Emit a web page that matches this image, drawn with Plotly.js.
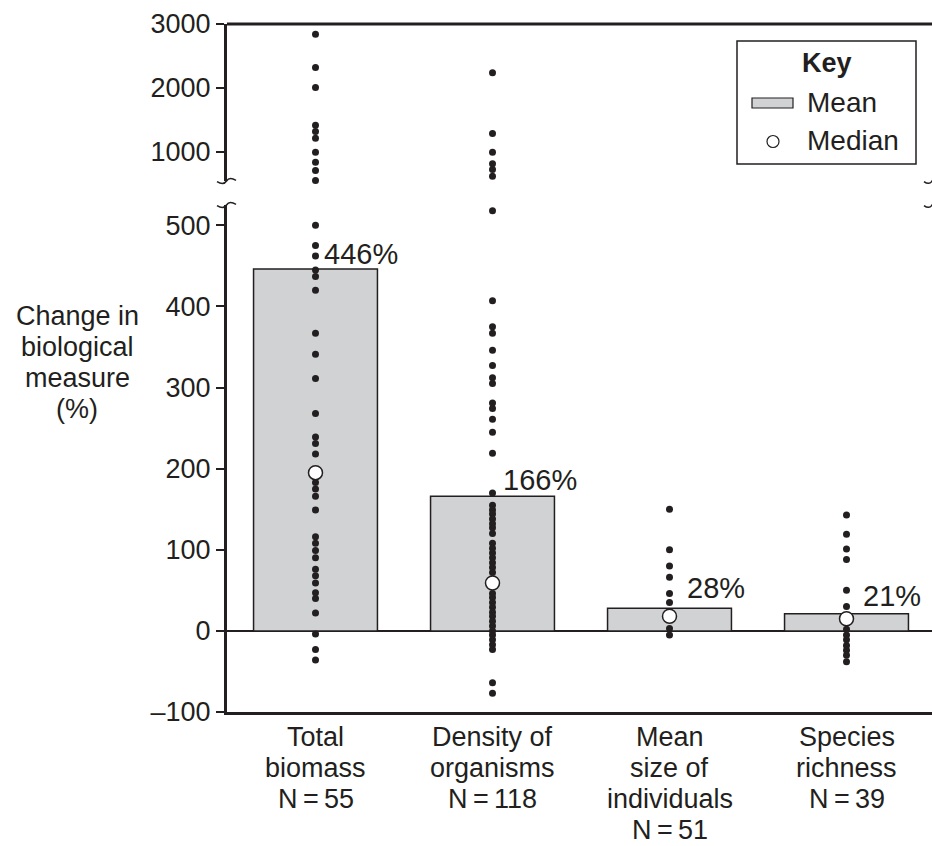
<!DOCTYPE html>
<html>
<head>
<meta charset="utf-8">
<script src="https://cdn.plot.ly/plotly-3.0.1.min.js"></script>
<style>
  html, body { margin: 0; padding: 0; background: #ffffff; }
  #chart { width: 932px; height: 846px; }
</style>
</head>
<body>
<div id="chart"></div>
<script>
// Category labels along the x axis (one entry per line)
const categories = [
  ['Total', 'biomass', 'N\u2009=\u200955'],
  ['Density of', 'organisms', 'N\u2009=\u2009118'],
  ['Mean', 'size of', 'individuals', 'N\u2009=\u200951'],
  ['Species', 'richness', 'N\u2009=\u200939']
];

// Mean change (%) per measure – drawn as bars
const meanValues = [446, 166, 28, 21];
// Median change (%) per measure – drawn as open circles
const medianValues = [195, 59, 18, 15];

// Individual study values (%) per measure
const biomassPoints = [
  2840, 2320, 2005, 1415, 1315, 1210, 990, 835, 705, 548,
  500, 475, 462, 445, 437, 420, 367, 341, 311, 268, 239, 231, 218,
  183, 175, 166, 149, 116, 108, 99, 90, 76, 68, 59, 47, 40, 22, -4, -23, -36
];
const densityPoints = [
  2235, 1285, 990, 810, 720, 615,
  518, 407, 375, 367, 346, 327, 312, 305, 281, 274, 261, 245, 219,
  170, 155, 149, 144, 138, 132, 127, 120, 108, 102, 96, 90, 84, 78, 72,
  46, 41, 35, 29, 23, 18, 12, 6, 0, -5, -11, -17, -23, -64, -77
];
const sizePoints = [150, 100, 80, 66, 46, 35, 3, -5];
const richnessPoints = [143, 119, 101, 88, 50, 30, 2, -5, -11, -18, -24, -30, -38];

// Tick values / labels for the two segments of the broken y axis
const lowerTickVals = [-100, 0, 100, 200, 300, 400, 500];
const lowerTickText = ['\u2013100', '0', '100', '200', '300', '400', '500'];
const upperTickVals = [1000, 2000, 3000];
const upperTickText = ['1000', '2000', '3000'];

// y-axis title lines
const yTitleLines = ['Change in', 'biological', 'measure', '(%)'];

// ---- styling / geometry -------------------------------------------------
const INK = '#231f20';
const BAR_FILL = '#d1d2d4';
const FONT = 'Liberation Sans, Arial, Helvetica, sans-serif';

const W = 932, H = 846;
const M = { l: 227, r: 0, t: 24, b: 134 };
const plotW = W - M.l - M.r;
const plotH = H - M.t - M.b;

// pixel -> paper helpers for decorations
const px = p => (p - M.l) / plotW;
const py = p => (H - M.b - p) / plotH;

const LOWER_MAX = 525;   // top of the lower segment
const UPPER_MIN = 541;   // bottom of the upper segment
const lowerDomain = [0, py(205)];
const upperDomain = [py(181), 1];

// ---- traces -------------------------------------------------------------
const allPoints = [biomassPoints, densityPoints, sizePoints, richnessPoints];
const lowX = [], lowY = [], highX = [], highY = [];
allPoints.forEach((vals, i) => {
  vals.forEach(v => {
    if (v > LOWER_MAX) { highX.push(i); highY.push(v); }
    else { lowX.push(i); lowY.push(v); }
  });
});

const xIdx = categories.map((_, i) => i);

const traces = [
  {
    type: 'bar', x: xIdx, y: meanValues, width: 0.70,
    marker: { color: BAR_FILL, line: { color: INK, width: 1.5 } },
    xaxis: 'x', yaxis: 'y', showlegend: false, hoverinfo: 'skip'
  },
  {
    type: 'scatter', mode: 'markers', x: lowX, y: lowY,
    marker: { size: 7, color: INK },
    xaxis: 'x', yaxis: 'y', cliponaxis: false, showlegend: false
  },
  {
    type: 'scatter', mode: 'markers', x: highX, y: highY,
    marker: { size: 7, color: INK },
    xaxis: 'x', yaxis: 'y2', cliponaxis: false, showlegend: false
  },
  {
    type: 'scatter', mode: 'markers', x: xIdx, y: medianValues,
    marker: { size: 14, color: '#ffffff', line: { color: INK, width: 1.5 } },
    xaxis: 'x', yaxis: 'y', cliponaxis: false, showlegend: false
  }
];

// ---- annotations ----------------------------------------------------------
const labelShift = [[6, 15], [8, 16], [15, 20], [14, 18]];
const annotations = meanValues.map((v, i) => ({
  x: i, y: v, xref: 'x', yref: 'y',
  text: v + '%', showarrow: false,
  xanchor: 'left', yanchor: 'middle',
  xshift: labelShift[i][0], yshift: labelShift[i][1],
  font: { family: FONT, size: 29, color: INK }
}));

// category labels under the axis, one line at a time
const LINE_GAP = 31;
categories.forEach((lines, i) => {
  lines.forEach((line, j) => {
    annotations.push({
      x: i, xref: 'x', yref: 'paper', y: py(737 + LINE_GAP * j),
      text: line, showarrow: false, xanchor: 'center', yanchor: 'middle',
      font: { family: FONT, size: 27, color: INK }
    });
  });
});

// y-axis title, written horizontally to the left of the axis
yTitleLines.forEach((line, j) => {
  annotations.push({
    xref: 'paper', yref: 'paper', x: px(77), y: py(316 + LINE_GAP * j),
    text: line, showarrow: false, xanchor: 'center', yanchor: 'middle',
    font: { family: FONT, size: 27, color: INK }
  });
});

// key
annotations.push({
  xref: 'paper', yref: 'paper', x: px(827), y: py(63),
  text: '<b>Key</b>', showarrow: false, xanchor: 'center', yanchor: 'middle',
  font: { family: FONT, size: 27, color: INK }
});
annotations.push({
  xref: 'paper', yref: 'paper', x: px(805), y: py(103),
  text: 'Mean', showarrow: false, xanchor: 'left', yanchor: 'middle',
  font: { family: FONT, size: 28, color: INK }
});
annotations.push({
  xref: 'paper', yref: 'paper', x: px(805), y: py(141),
  text: 'Median', showarrow: false, xanchor: 'left', yanchor: 'middle',
  font: { family: FONT, size: 28, color: INK }
});

// ---- shapes ---------------------------------------------------------------
function pathFrom(points) {
  // points: list of [cmd, x, y, ...] in pixels
  return points.map(seg => {
    const cmd = seg[0];
    const nums = [];
    for (let k = 1; k < seg.length; k += 2) {
      nums.push(px(seg[k]).toFixed(5) + ',' + py(seg[k + 1]).toFixed(5));
    }
    return cmd + nums.join(' ');
  }).join(' ');
}

function tilde(x0, x1, yc, amp) {
  const w = x1 - x0;
  return pathFrom([
    ['M', x0, yc + amp * 0.2],
    ['C', x0 + w * 0.2, yc + amp, x0 + w * 0.4, yc + amp, x0 + w * 0.5, yc],
    ['C', x0 + w * 0.6, yc - amp, x0 + w * 0.8, yc - amp, x1, yc - amp * 0.2]
  ]);
}

const shapes = [
  // top border of the upper segment
  { type: 'line', xref: 'paper', yref: 'paper', x0: 0, x1: 1, y0: 1, y1: 1,
    line: { color: INK, width: 3 } },
  // axis break marks (left)
  { type: 'path', xref: 'paper', yref: 'paper', path: tilde(217, 236, 181, 3),
    line: { color: INK, width: 1.5 } },
  { type: 'path', xref: 'paper', yref: 'paper', path: tilde(217, 236, 205, 3),
    line: { color: INK, width: 1.5 } },
  // axis break marks (right)
  { type: 'path', xref: 'paper', yref: 'paper', path: tilde(924, 940, 181, 3),
    line: { color: INK, width: 1.5 } },
  { type: 'path', xref: 'paper', yref: 'paper', path: tilde(924, 940, 205, 3),
    line: { color: INK, width: 1.5 } },
  // key frame
  { type: 'rect', xref: 'paper', yref: 'paper',
    x0: px(737), x1: px(916), y0: py(164), y1: py(41),
    line: { color: INK, width: 1.5 }, fillcolor: '#ffffff' },
  // key: mean swatch
  { type: 'rect', xref: 'paper', yref: 'paper',
    x0: px(752), x1: px(793), y0: py(108), y1: py(98),
    line: { color: INK, width: 1.2 }, fillcolor: BAR_FILL },
  // key: median symbol
  { type: 'circle', xref: 'paper', yref: 'paper',
    x0: px(767), x1: px(779), y0: py(147.5), y1: py(135.5),
    line: { color: INK, width: 1.2 }, fillcolor: '#ffffff' }
];

// ---- layout ---------------------------------------------------------------
const layout = {
  width: W, height: H,
  margin: M,
  paper_bgcolor: '#ffffff', plot_bgcolor: 'rgba(0,0,0,0)',
  font: { family: FONT, color: INK, size: 24 },
  showlegend: false,
  bargap: 0.3,
  xaxis: {
    domain: [0, 1], anchor: 'y',
    range: [-0.5, -0.5 + plotW / 177],
    tickmode: 'array', tickvals: xIdx,
    showticklabels: false,
    ticks: '', showgrid: false, zeroline: false,
    showline: true, linecolor: INK, linewidth: 3,
    fixedrange: true
  },
  yaxis: {
    domain: lowerDomain, anchor: 'x',
    range: [-100, LOWER_MAX],
    tickmode: 'array', tickvals: lowerTickVals, ticktext: lowerTickText,
    ticks: 'outside', ticklen: 8, tickwidth: 2, tickcolor: INK,
    showgrid: false,
    zeroline: true, zerolinecolor: INK, zerolinewidth: 1.5,
    showline: true, linecolor: INK, linewidth: 3,
    tickfont: { family: FONT, size: 27, color: INK },
    fixedrange: true
  },
  yaxis2: {
    domain: upperDomain, anchor: 'x',
    range: [UPPER_MIN, 3000],
    tickmode: 'array', tickvals: upperTickVals, ticktext: upperTickText,
    ticks: 'outside', ticklen: 8, tickwidth: 2, tickcolor: INK,
    showgrid: false, zeroline: false,
    showline: true, linecolor: INK, linewidth: 3,
    tickfont: { family: FONT, size: 27, color: INK },
    fixedrange: true
  },
  annotations: annotations,
  shapes: shapes
};

Plotly.newPlot('chart', traces, layout, { staticPlot: true, displayModeBar: false });
</script>
</body>
</html>
